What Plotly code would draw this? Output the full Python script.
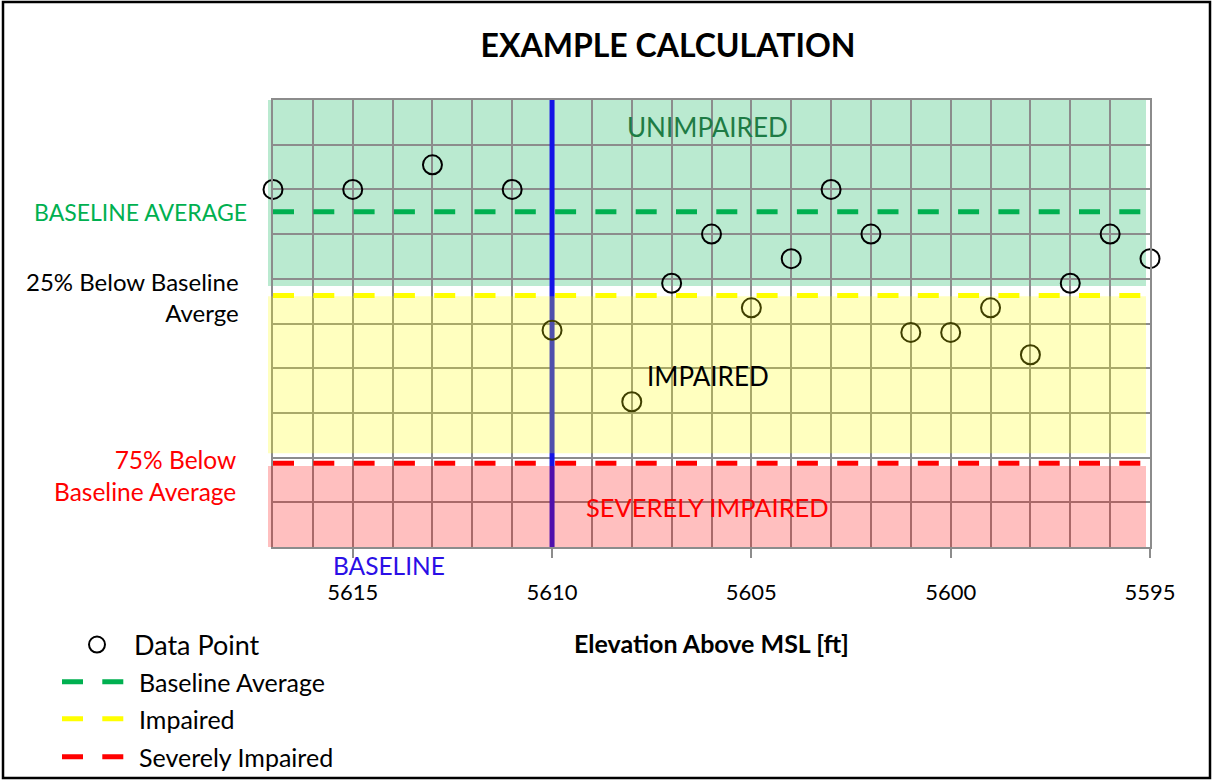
import plotly.graph_objects as go

# ---------------- data ----------------
elev = [5617, 5615, 5613, 5611, 5610, 5608, 5607, 5606, 5605, 5604,
        5603, 5602, 5601, 5600, 5599, 5598, 5597, 5596, 5595]
values = [8.0, 8.0, 8.55, 8.0, 4.85, 3.25, 5.9, 7.0, 5.35, 6.45,
          8.0, 7.0, 4.8, 4.8, 5.35, 4.3, 5.9, 7.0, 6.45]

baseline_elev = 5610
baseline_avg = 7.5
impaired_level = baseline_avg * 0.75
severe_level = baseline_avg * 0.25

x_range = [5617, 5595]
y_range = [0, 10]

# band extents (value units)
green_band = [5.84, 10.04]
yellow_band = [2.1, 5.61]
red_band = [0.0, 1.81]

tick_vals = [5615, 5610, 5605, 5600, 5595]
tick_text = ["5615", "5610", "5605", "5600", "5595"]

FONT = "Lato"
W, H = 1212, 782
ML, MR, MT, MB = 273, 62, 100, 235


def px_x(p):
    return (p - ML) / (W - ML - MR)


def px_y(p):
    return (H - MB - p) / (H - MT - MB)


dash = "21px,19.3px"

fig = go.Figure()

# baseline vertical line
fig.add_trace(go.Scatter(
    x=[baseline_elev, baseline_elev], y=y_range, mode="lines",
    line=dict(color="#1414E6", width=5), showlegend=False, hoverinfo="skip"))

fig.add_trace(go.Scatter(
    x=elev, y=values, mode="markers", name="Data Point",
    marker=dict(symbol="circle-open", size=19, color="black",
                line=dict(width=2, color="black")),
    cliponaxis=False, legend="legend"))

fig.add_trace(go.Scatter(
    x=x_range, y=[baseline_avg, baseline_avg], mode="lines",
    name="Baseline Average", line=dict(color="#00B050", width=5, dash=dash),
    legend="legend2"))
fig.add_trace(go.Scatter(
    x=x_range, y=[impaired_level, impaired_level], mode="lines",
    name="Impaired", line=dict(color="#FFFF00", width=5, dash=dash),
    legend="legend3"))
fig.add_trace(go.Scatter(
    x=x_range, y=[severe_level, severe_level], mode="lines",
    name="Severely Impaired", line=dict(color="#FF0000", width=5, dash=dash),
    legend="legend4"))

bx0, bx1 = px_x(268), px_x(1146)
shapes = [
    dict(type="rect", xref="paper", yref="y", x0=bx0, x1=bx1,
         y0=green_band[0], y1=green_band[1], layer="between",
         fillcolor="rgba(0,176,80,0.27)", line=dict(width=0)),
    dict(type="rect", xref="paper", yref="y", x0=bx0, x1=bx1,
         y0=yellow_band[0], y1=yellow_band[1], layer="above",
         fillcolor="rgba(255,255,0,0.25)", line=dict(width=0)),
    dict(type="rect", xref="paper", yref="y", x0=bx0, x1=bx1,
         y0=red_band[0], y1=red_band[1], layer="above",
         fillcolor="rgba(255,0,0,0.25)", line=dict(width=0)),
    dict(type="rect", xref="paper", yref="paper",
         x0=px_x(3), x1=px_x(1210), y0=px_y(778), y1=px_y(2),
         line=dict(color="black", width=2.5), fillcolor="rgba(0,0,0,0)",
         layer="above"),
]

mid = dict(showarrow=False, yanchor="middle")
annotations = [
    dict(text="UNIMPAIRED", x=5606.1, y=9.4, xref="x", yref="y",
         xanchor="center", font=dict(family=FONT, size=26, color="#1E7B45"),
         **mid),
    dict(text="IMPAIRED", x=5606.1, y=3.83, xref="x", yref="y",
         xanchor="center", font=dict(family=FONT, size=26, color="black"),
         **mid),
    dict(text="SEVERELY IMPAIRED", x=5606.1, y=0.9, xref="x", yref="y",
         xanchor="center", font=dict(family=FONT, size=25.5, color="#FF0000"),
         **mid),
    dict(text="BASELINE AVERAGE", x=px_x(249), y=baseline_avg, xref="paper",
         yref="y", xanchor="right",
         font=dict(family=FONT, size=23, color="#00B050"), **mid),
    dict(text="25% Below Baseline<br>Averge", x=px_x(240.5), y=px_y(297),
         xref="paper", yref="paper", xanchor="right", align="right",
         font=dict(family=FONT, size=24, color="black"), **mid),
    dict(text="75% Below<br>Baseline Average", x=px_x(237.5), y=px_y(475.5),
         xref="paper", yref="paper", xanchor="right", align="right",
         font=dict(family=FONT, size=24.5, color="#FF0000"), **mid),
    dict(text="BASELINE", x=px_x(389), y=px_y(565), xref="paper",
         yref="paper", xanchor="center",
         font=dict(family=FONT, size=24.5, color="#2B0FE6"), **mid),
]

leg_common = dict(xref="container", yref="container", yanchor="middle",
                  xanchor="left", bgcolor="rgba(0,0,0,0)", borderwidth=0)

fig.update_layout(
    width=W, height=H,
    margin=dict(l=ML, r=MR, t=MT, b=MB, autoexpand=False),
    paper_bgcolor="white", plot_bgcolor="white",
    font=dict(family=FONT, size=21, color="black"),
    title=dict(text="<b>EXAMPLE CALCULATION</b>", xref="container",
               yref="container", x=668 / W, y=1 - 46 / H, xanchor="center",
               yanchor="middle", font=dict(family=FONT, size=32, color="black")),
    xaxis=dict(range=x_range, tickmode="array", tickvals=tick_vals,
               ticktext=tick_text, ticks="outside", ticklen=9, tickwidth=1.5,
               tickcolor="#8C8C8C", showgrid=True, gridcolor="#8C8C8C",
               gridwidth=1.5, showline=True, linecolor="#8C8C8C",
               linewidth=1.5, mirror=True, zeroline=False,
               tickfont=dict(family=FONT, size=22, color="black"),
               ticklabelstandoff=16,
               minor=dict(dtick=1, tick0=5595, showgrid=True,
                          gridcolor="#8C8C8C", gridwidth=1.5),
               title=dict(text="<b>Elevation Above MSL [ft]</b>",
                          font=dict(family=FONT, size=25, color="black"),
                          standoff=31)),
    yaxis=dict(range=y_range, dtick=1, tick0=0, showticklabels=False,
               ticks="", showgrid=True, gridcolor="#8C8C8C", gridwidth=1.5,
               showline=True, linecolor="#8C8C8C", linewidth=1.5,
               mirror=True, zeroline=False),
    legend=dict(x=60 / W, y=1 - 645 / H, itemwidth=64,
                font=dict(family=FONT, size=27, color="black"), **leg_common),
    legend2=dict(x=57 / W, y=1 - 682 / H, itemwidth=72,
                 font=dict(family=FONT, size=25, color="black"), **leg_common),
    legend3=dict(x=57 / W, y=1 - 719 / H, itemwidth=72,
                 font=dict(family=FONT, size=25, color="black"), **leg_common),
    legend4=dict(x=57 / W, y=1 - 757 / H, itemwidth=72,
                 font=dict(family=FONT, size=25, color="black"), **leg_common),
    shapes=shapes,
    annotations=annotations,
    showlegend=True,
)

fig.write_html("out.html", config={"displayModeBar": False},
               post_script="document.body.style.margin='0px';")
